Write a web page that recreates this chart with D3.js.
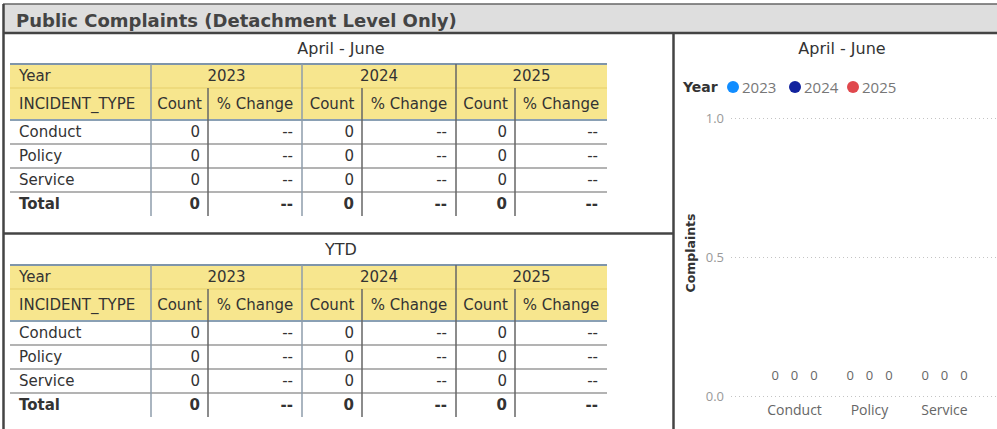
<!DOCTYPE html>
<html>
<head>
<meta charset="utf-8">
<script src="https://cdn.jsdelivr.net/npm/d3@7"></script>
<style>
  body { margin: 0; background: #fff; }
  svg { display: block; }
  .tbl { font-family: "DejaVu Sans", sans-serif; font-size: 15px; fill: #333; }
  .chart { font-family: "Open Sans", "Noto Sans", sans-serif; }
</style>
</head>
<body>
<div id="report"></div>
<script>
// Chart data
const years = ["2023", "2024", "2025"];
const incidentTypes = ["Conduct", "Policy", "Service"];

// April - June counts per incident type, one array per year
const aprJune2023 = [0, 0, 0];
const aprJune2024 = [0, 0, 0];
const aprJune2025 = [0, 0, 0];

// Year to date counts per incident type
const ytd2023 = [0, 0, 0];
const ytd2024 = [0, 0, 0];
const ytd2025 = [0, 0, 0];

const yTicks = [0, 0.5, 1.0];
const yearColors = ["#118DFF", "#12239E", "#E0484D"];

const width = 997;
const height = 429;

const svg = d3.select("#report")
    .append("svg")
    .attr("width", width)
    .attr("height", height);

// ---- Title bar ----
svg.append("rect")
    .attr("x", 3).attr("y", 4)
    .attr("width", width - 3).attr("height", 29)
    .attr("fill", "#dedede");
svg.append("line")
    .attr("x1", 3).attr("x2", width).attr("y1", 4).attr("y2", 4)
    .attr("stroke", "#666").attr("stroke-width", 1.5);
svg.append("text")
    .attr("x", 16).attr("y", 27)
    .style("font-family", "DejaVu Sans, sans-serif")
    .style("font-weight", "bold")
    .style("font-size", "18px")
    .style("fill", "#444")
    .text("Public Complaints (Detachment Level Only)");

// ---- Panel borders ----
const border = "#444";
svg.append("line").attr("x1", 3).attr("x2", width).attr("y1", 33).attr("y2", 33)
    .attr("stroke", border).attr("stroke-width", 2.5);
svg.append("line").attr("x1", 3.5).attr("x2", 3.5).attr("y1", 4).attr("y2", height)
    .attr("stroke", border).attr("stroke-width", 2.5);
svg.append("line").attr("x1", 673.5).attr("x2", 673.5).attr("y1", 33).attr("y2", height)
    .attr("stroke", border).attr("stroke-width", 2.5);
svg.append("line").attr("x1", 3).attr("x2", 674).attr("y1", 233.5).attr("y2", 233.5)
    .attr("stroke", border).attr("stroke-width", 2.5);

// ---- Tables ----
// column edges: label | Count | % Change | Count | % Change | Count | % Change
const colEdges = [10, 151, 208, 302, 362, 456, 515, 607];

function pctChange(cur, prev) {
    if (prev === undefined || prev === 0) return "--";
    return d3.format(".0%")((cur - prev) / prev);
}

function drawTable(title, top, series) {
    const g = svg.append("g").attr("class", "tbl");

    g.append("text")
        .attr("x", 341).attr("y", top - 10)
        .attr("text-anchor", "middle")
        .style("font-size", "16px")
        .text(title);

    const h1 = 24, h2 = 32, rh = 24;
    const rowsTop = top + h1 + h2;
    const left = colEdges[0], right = colEdges[colEdges.length - 1];

    // header fill
    g.append("rect")
        .attr("x", left).attr("y", top)
        .attr("width", right - left).attr("height", h1 + h2)
        .attr("fill", "#F7E68E");
    g.append("line")
        .attr("x1", left).attr("x2", right).attr("y1", top + h1).attr("y2", top + h1)
        .attr("stroke", "#e6cf6a").attr("stroke-width", 1);

    // header row 1
    g.append("text").attr("x", 19).attr("y", top + h1 / 2 + 5).text("Year");
    years.forEach((yr, i) => {
        const x0 = colEdges[1 + i * 2], x1 = colEdges[3 + i * 2];
        g.append("text")
            .attr("x", (x0 + x1) / 2).attr("y", top + h1 / 2 + 5)
            .attr("text-anchor", "middle")
            .text(yr);
    });

    // header row 2
    g.append("text").attr("x", 19).attr("y", top + h1 + h2 / 2 + 5).text("INCIDENT_TYPE");
    years.forEach((yr, i) => {
        ["Count", "% Change"].forEach((lab, j) => {
            const x0 = colEdges[1 + i * 2 + j], x1 = colEdges[2 + i * 2 + j];
            g.append("text")
                .attr("x", (x0 + x1) / 2).attr("y", top + h1 + h2 / 2 + 5)
                .attr("text-anchor", "middle")
                .text(lab);
        });
    });

    // data rows incl. total
    const rows = incidentTypes.map((t, r) => ({
        label: t,
        values: series.map(s => s[r]),
        bold: false
    }));
    rows.push({
        label: "Total",
        values: series.map(s => d3.sum(s)),
        bold: true
    });

    rows.forEach((row, r) => {
        const yb = rowsTop + r * rh + rh / 2 + 5;
        g.append("text")
            .attr("x", 19).attr("y", yb)
            .style("font-weight", row.bold ? "bold" : "normal")
            .text(row.label);
        row.values.forEach((v, i) => {
            g.append("text")
                .attr("x", colEdges[2 + i * 2] - 8).attr("y", yb)
                .attr("text-anchor", "end")
                .style("font-weight", row.bold ? "bold" : "normal")
                .text(v);
            g.append("text")
                .attr("x", colEdges[3 + i * 2] - 9).attr("y", yb)
                .attr("text-anchor", "end")
                .style("font-weight", row.bold ? "bold" : "normal")
                .text(pctChange(v, i > 0 ? row.values[i - 1] : undefined));
        });
        if (r < rows.length - 1) {
            g.append("line")
                .attr("x1", left).attr("x2", right)
                .attr("y1", rowsTop + (r + 1) * rh).attr("y2", rowsTop + (r + 1) * rh)
                .attr("stroke", "#9a9a9a").attr("stroke-width", 1.5);
        }
    });

    const bottom = rowsTop + rows.length * rh;

    // header border lines
    g.append("line")
        .attr("x1", left).attr("x2", right).attr("y1", top).attr("y2", top)
        .attr("stroke", "#7f95aa").attr("stroke-width", 2);
    g.append("line")
        .attr("x1", left).attr("x2", right).attr("y1", rowsTop).attr("y2", rowsTop)
        .attr("stroke", "#8aa0b4").attr("stroke-width", 2);

    // vertical lines
    colEdges.slice(1, -1).forEach((x, k) => {
        const groupEdge = k % 2 === 0;
        g.append("line")
            .attr("x1", x).attr("x2", x)
            .attr("y1", groupEdge ? top : top + h1).attr("y2", bottom)
            .attr("stroke", (k === 0 || k === 2) ? "#8e9cab" : "#666")
            .attr("stroke-width", 1.5);
    });
}

drawTable("April - June", 64, [aprJune2023, aprJune2024, aprJune2025]);
drawTable("YTD", 265, [ytd2023, ytd2024, ytd2025]);

// ---- Clustered column chart ----
const chart = svg.append("g").attr("class", "chart");
const chartSeries = [aprJune2023, aprJune2024, aprJune2025];
const chartData = incidentTypes.map((t, i) => ({
    type: t,
    values: years.map((yr, j) => ({ year: yr, value: chartSeries[j][i] }))
}));

chart.append("text")
    .attr("x", 842).attr("y", 54)
    .attr("text-anchor", "middle")
    .style("font-family", "DejaVu Sans, sans-serif")
    .style("font-size", "16px")
    .style("fill", "#333")
    .text("April - June");

// legend
const legend = chart.append("g").attr("transform", "translate(683,87)");
legend.append("text")
    .attr("y", 5)
    .style("font-family", "DejaVu Sans, sans-serif")
    .style("font-weight", "bold")
    .style("font-size", "14px")
    .style("fill", "#333")
    .text("Year");
const legendX = [50, 112, 170];
years.forEach((yr, i) => {
    legend.append("circle")
        .attr("cx", legendX[i]).attr("cy", 0).attr("r", 6)
        .attr("fill", yearColors[i]);
    legend.append("text")
        .attr("x", legendX[i] + 9).attr("y", 5.5)
        .style("font-size", "15px")
        .style("fill", "#777")
        .text(yr);
});

const y = d3.scaleLinear().domain([0, 1]).range([396, 118]);
const x = d3.scaleBand()
    .domain(incidentTypes)
    .range([757, 982])
    .paddingInner(0.2)
    .paddingOuter(0.1);
const xInner = d3.scaleBand()
    .domain(years)
    .range([0, x.bandwidth()])
    .padding(0.1);
const color = d3.scaleOrdinal().domain(years).range(yearColors);

// gridlines
const yAxis = d3.axisLeft(y)
    .tickValues(yTicks)
    .tickFormat(d3.format(".1f"))
    .tickSize(-(width - 731))
    .tickPadding(7);
const yG = chart.append("g")
    .attr("transform", "translate(731,0)")
    .call(yAxis);
yG.select(".domain").remove();
yG.selectAll(".tick line")
    .attr("stroke", "#c4c4c4")
    .attr("stroke-dasharray", "1,3");
yG.selectAll(".tick text")
    .style("font-family", "Open Sans, sans-serif")
    .style("font-size", "13px")
    .style("fill", "#999");

chart.append("text")
    .attr("transform", "translate(695,253) rotate(-90)")
    .attr("text-anchor", "middle")
    .style("font-family", "DejaVu Sans, sans-serif")
    .style("font-weight", "bold")
    .style("font-size", "12.5px")
    .style("fill", "#333")
    .text("Complaints");

// x axis labels
const xAxis = d3.axisBottom(x).tickSize(0).tickPadding(9);
const xG = chart.append("g")
    .attr("transform", "translate(0,396)")
    .call(xAxis);
xG.select(".domain").remove();
xG.selectAll(".tick text")
    .style("font-family", "Open Sans, sans-serif")
    .style("font-size", "14px")
    .style("fill", "#666");

// bars and labels
const groups = chart.selectAll(".grp")
    .data(chartData)
    .join("g")
    .attr("class", "grp")
    .attr("transform", d => `translate(${x(d.type)},0)`);

groups.selectAll("rect")
    .data(d => d.values)
    .join("rect")
    .attr("x", d => xInner(d.year))
    .attr("width", xInner.bandwidth())
    .attr("y", d => y(d.value))
    .attr("height", d => y(0) - y(d.value))
    .attr("fill", d => color(d.year));

groups.selectAll(".lbl")
    .data(d => d.values)
    .join("text")
    .attr("class", "lbl")
    .attr("x", d => xInner(d.year) + xInner.bandwidth() / 2)
    .attr("y", d => y(d.value) - 16)
    .attr("text-anchor", "middle")
    .style("font-size", "13px")
    .style("fill", "#666")
    .text(d => d.value);
</script>
</body>
</html>
